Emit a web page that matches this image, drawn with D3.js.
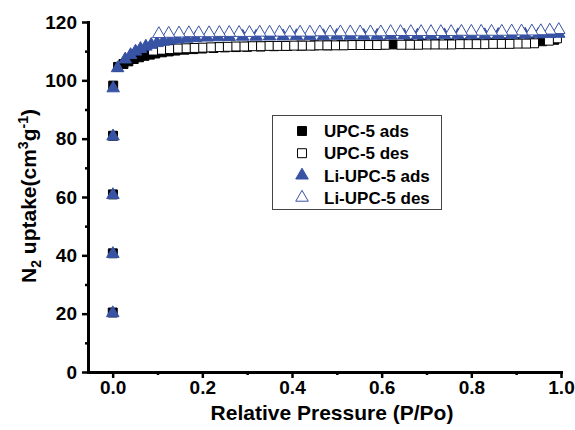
<!DOCTYPE html>
<html>
<head>
<meta charset="utf-8">
<script src="https://cdn.jsdelivr.net/npm/d3@7/dist/d3.min.js"></script>
<style>
  body { margin: 0; background: #fff; }
  text { font-family: "Liberation Sans", Arial, sans-serif; font-weight: bold; }
</style>
</head>
<body>
<svg id="chart" width="575" height="430"></svg>
<script>
// UPC-5 adsorption (filled squares)
const upcAdsP = [0.0002, 0.0004, 0.0006, 0.0008, 0.0012, 0.012, 0.024, 0.035, 0.047, 0.059, 0.071, 0.083, 0.095, 0.11, 0.125, 0.14, 0.16, 0.18, 0.2, 0.225, 0.25, 0.275, 0.3, 0.33, 0.36, 0.39, 0.42, 0.45, 0.48, 0.51, 0.54, 0.57, 0.6, 0.626, 0.66, 0.69, 0.72, 0.75, 0.78, 0.81, 0.84, 0.87, 0.9, 0.93, 0.958, 0.985];
const upcAdsV = [20.4, 40.7, 60.9, 81.0, 98.2, 104.6, 105.6, 106.5, 107.3, 107.9, 108.4, 108.8, 109.2, 109.6, 109.9, 110.2, 110.5, 110.7, 110.9, 111.1, 111.3, 111.4, 111.5, 111.6, 111.7, 111.8, 111.9, 112.0, 112.0, 112.1, 112.2, 112.2, 112.3, 112.3, 112.4, 112.5, 112.5, 112.6, 112.7, 112.8, 112.9, 113.0, 113.1, 113.3, 113.4, 113.9];

// UPC-5 desorption (open squares)
const upcDesP = [0.991, 0.973, 0.940, 0.922, 0.903, 0.885, 0.866, 0.848, 0.829, 0.811, 0.792, 0.774, 0.755, 0.737, 0.718, 0.700, 0.681, 0.663, 0.644, 0.607, 0.589, 0.570, 0.552, 0.533, 0.515, 0.496, 0.478, 0.459, 0.441, 0.422, 0.404, 0.385, 0.367, 0.348, 0.330, 0.311, 0.293, 0.274, 0.256, 0.237, 0.219, 0.200, 0.182, 0.163, 0.145, 0.126, 0.108, 0.090];
const upcDesV = [114.4, 113.6, 112.7, 112.6, 112.6, 112.5, 112.5, 112.5, 112.4, 112.4, 112.4, 112.4, 112.3, 112.3, 112.3, 112.3, 112.2, 112.2, 112.2, 112.2, 112.1, 112.1, 112.1, 112.1, 112.0, 112.0, 112.0, 112.0, 111.9, 111.9, 111.9, 111.8, 111.8, 111.8, 111.7, 111.7, 111.6, 111.6, 111.5, 111.4, 111.3, 111.2, 111.1, 111.0, 110.9, 110.7, 110.5, 110.2];

// Li-UPC-5 adsorption (filled triangles)
const liAdsP = [0.0002, 0.0004, 0.0006, 0.0008, 0.0012, 0.011, 0.028, 0.04, 0.051, 0.062, 0.074, 0.086, 0.099, 0.113, 0.128, 0.145, 0.165, 0.185, 0.21, 0.235, 0.26, 0.29, 0.32, 0.35, 0.38, 0.41, 0.44, 0.47, 0.5, 0.53, 0.56, 0.59, 0.62, 0.65, 0.68, 0.71, 0.74, 0.77, 0.8, 0.83, 0.86, 0.89, 0.92, 0.95, 0.975, 0.995];
const liAdsV = [20.2, 40.5, 60.7, 80.8, 97.3, 104.2, 107.2, 108.7, 109.9, 110.8, 111.6, 112.2, 112.8, 113.3, 113.7, 114.0, 114.3, 114.5, 114.7, 114.8, 114.9, 115.0, 115.0, 115.1, 115.1, 115.2, 115.2, 115.2, 115.3, 115.3, 115.3, 115.3, 115.4, 115.4, 115.4, 115.4, 115.5, 115.5, 115.5, 115.5, 115.6, 115.6, 115.7, 115.8, 115.9, 116.0];

// Li-UPC-5 desorption (open triangles)
const liDesP = [0.995, 0.975, 0.955, 0.935, 0.912, 0.89, 0.868, 0.845, 0.822, 0.80, 0.778, 0.755, 0.732, 0.71, 0.688, 0.665, 0.642, 0.62, 0.598, 0.575, 0.552, 0.53, 0.508, 0.485, 0.462, 0.44, 0.418, 0.395, 0.372, 0.35, 0.328, 0.305, 0.282, 0.26, 0.238, 0.215, 0.192, 0.17, 0.148, 0.125, 0.103];
const liDesV = [117.3, 117.1, 116.9, 116.8, 116.8, 116.8, 116.7, 116.7, 116.7, 116.7, 116.7, 116.6, 116.6, 116.6, 116.6, 116.6, 116.6, 116.6, 116.5, 116.5, 116.5, 116.5, 116.5, 116.5, 116.5, 116.4, 116.4, 116.4, 116.4, 116.4, 116.4, 116.3, 116.3, 116.3, 116.3, 116.2, 116.2, 116.2, 116.1, 116.0, 115.9];

const seriesNames = ["UPC-5 ads", "UPC-5 des", "Li-UPC-5 ads", "Li-UPC-5 des"];
const xTicks = [0, 0.2, 0.4, 0.6, 0.8, 1.0];
const xMinorTicks = [0.1, 0.3, 0.5, 0.7, 0.9];
const yTicks = [0, 20, 40, 60, 80, 100, 120];
const yMinorTicks = [10, 30, 50, 70, 90, 110];

const blue = "#3853a4";

var svg = d3.select("#chart");

var xScale = d3.scaleLinear().domain([-0.055, 1.0]).range([88, 561]);
var yScale = d3.scaleLinear().domain([0, 120]).range([372, 22]);

var square = d3.symbol().type(d3.symbolSquare).size(80);
var triangle = d3.symbol().type(d3.symbolTriangle).size(68);

var styles = [
    {sym: square, fill: "#000", stroke: "#000"},
    {sym: square, fill: "#fff", stroke: "#000"},
    {sym: triangle, fill: blue, stroke: blue},
    {sym: triangle, fill: "#fff", stroke: blue}
];

var allSeries = [
    d3.zip(upcAdsP, upcAdsV),
    d3.zip(upcDesP, upcDesV),
    d3.zip(liAdsP, liAdsV),
    d3.zip(liDesP, liDesV)
];

allSeries.forEach((data, i) => {
    svg.append("g")
        .selectAll("path")
        .data(data)
        .enter()
        .append("path")
        .attr("d", styles[i].sym)
        .attr("transform", d => `translate(${xScale(d[0])},${yScale(d[1])})`)
        .attr("fill", styles[i].fill)
        .attr("stroke", styles[i].stroke)
        .attr("stroke-width", 1);
});

// axes
var xAxis = svg.append("g")
    .attr("transform", "translate(0,372)")
    .call(d3.axisBottom(xScale).tickValues(xTicks).tickFormat(d3.format(".1f")).tickSize(6).tickSizeOuter(0).tickPadding(3));
var xMinor = svg.append("g")
    .attr("transform", "translate(0,372)")
    .call(d3.axisBottom(xScale).tickValues(xMinorTicks).tickFormat("").tickSize(3).tickSizeOuter(0));
var yAxis = svg.append("g")
    .attr("transform", "translate(88,0)")
    .call(d3.axisLeft(yScale).tickValues(yTicks).tickSize(6).tickSizeOuter(0).tickPadding(5));
var yMinor = svg.append("g")
    .attr("transform", "translate(88,0)")
    .call(d3.axisLeft(yScale).tickValues(yMinorTicks).tickFormat("").tickSize(3).tickSizeOuter(0));

[xAxis, xMinor, yAxis, yMinor].forEach(a => {
    a.select(".domain").attr("stroke-width", 3).attr("stroke-linecap", "square");
    a.selectAll(".tick line").attr("stroke-width", 2.5);
    a.selectAll("text").style("font-size", "19px").attr("fill", "#000");
});

// axis titles
svg.append("text")
    .attr("x", 332)
    .attr("y", 420)
    .attr("text-anchor", "middle")
    .style("font-size", "21px")
    .text("Relative Pressure (P/Po)");

var yTitle = svg.append("text")
    .attr("transform", "translate(36,196) rotate(-90)")
    .attr("text-anchor", "middle")
    .style("font-size", "21px");
yTitle.append("tspan").text("N");
yTitle.append("tspan").attr("dy", 5).style("font-size", "14px").text("2");
yTitle.append("tspan").attr("dy", -5).text(" uptake(cm");
yTitle.append("tspan").attr("dy", -8).style("font-size", "14px").text("3");
yTitle.append("tspan").attr("dy", 8).text("g");
yTitle.append("tspan").attr("dy", -8).style("font-size", "14px").text("-1");
yTitle.append("tspan").attr("dy", 8).text(")");

// legend
svg.append("rect")
    .attr("x", 272.5)
    .attr("y", 115.5)
    .attr("width", 169)
    .attr("height", 94)
    .attr("fill", "#fff")
    .attr("stroke", "#444")
    .attr("stroke-width", 1);

var legend = svg.selectAll(".legend")
    .data(seriesNames)
    .enter()
    .append("g")
    .attr("class", "legend")
    .attr("transform", (d, i) => `translate(302, ${131 + i * 22.2})`);

legend.append("path")
    .attr("d", (d, i) => styles[i].sym())
    .attr("fill", (d, i) => styles[i].fill)
    .attr("stroke", (d, i) => styles[i].stroke);

legend.append("text")
    .attr("x", 22)
    .attr("dy", "0.36em")
    .style("font-size", "17px")
    .text(d => d);
</script>
</body>
</html>
